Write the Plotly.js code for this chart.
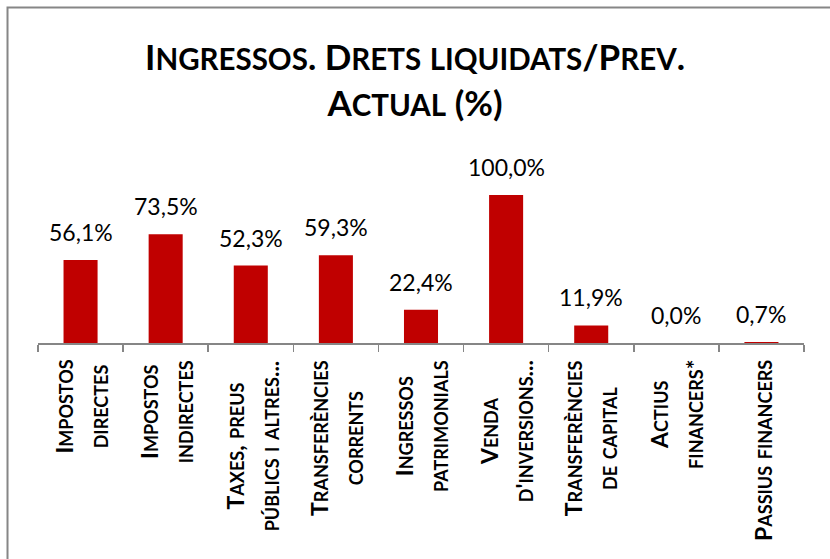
<!DOCTYPE html>
<html>
<head>
<meta charset="utf-8">
<script src="https://cdn.plot.ly/plotly-3.0.1.min.js"></script>
<style>
  html, body { margin: 0; padding: 0; background: #fff; }
  #chart { width: 830px; height: 559px; }
</style>
</head>
<body>
<div id="chart"></div>
<script>
// ---- data ----
const categories = [
  "Impostos directes",
  "Impostos indirectes",
  "Taxes, preus públics i altres...",
  "Transferències corrents",
  "Ingressos patrimonials",
  "Venda d'inversions...",
  "Transferències de capital",
  "Actius financers*",
  "Passius financers"
];
const tickLines = [
  ["Impostos", "directes"],
  ["Impostos", "indirectes"],
  ["Taxes, preus", "públics i altres..."],
  ["Transferències", "corrents"],
  ["Ingressos", "patrimonials"],
  ["Venda", "d'inversions..."],
  ["Transferències", "de capital"],
  ["Actius", "financers*"],
  ["Passius financers"]
];
const values = [56.1, 73.5, 52.3, 59.3, 22.4, 100.0, 11.9, 0.0, 0.7];
const titleLines = ["Ingressos. Drets liquidats/Prev.", "Actual (%)"];

// ---- helpers ----
function smallCaps(str, big, small) {
  let out = "";
  for (const ch of str) {
    const isLower = ch !== ch.toUpperCase();
    if (isLower) out += '<span style="font-size:' + small + 'px">' + ch.toUpperCase() + '</span>';
    else if (ch === " ") out += " ";
    else out += '<span style="font-size:' + big + 'px">' + ch + '</span>';
  }
  return out;
}
const fmt = v => v.toFixed(1).replace('.', ',') + '%';

const ticktext = tickLines.map(lines => lines.map(l => smallCaps(l, 23, 18)).join('<br>'));
const titleText = titleLines.map(l => smallCaps(l, 35, 29.5)).join('<br>');

const FONT = 'Lato, "Open Sans", sans-serif';
const GREY = '#868686';

const trace = {
  type: 'bar',
  x: categories,
  y: values,
  marker: { color: '#C00000' },
  hoverinfo: 'skip'
};

const valueLabels = categories.map((c, i) => ({
  x: c, y: values[i], xref: 'x', yref: 'y',
  text: fmt(values[i]),
  showarrow: false,
  yanchor: 'bottom',
  yshift: 12,
  font: { family: FONT, size: 23, color: '#000' }
}));

// category labels: rotated, lines centred (as in the reference)
const catLabels = categories.map((c, i) => ({
  x: c, y: -0.078, xref: 'x', yref: 'paper',
  text: ticktext[i],
  textangle: -90,
  showarrow: false,
  xanchor: 'center', yanchor: 'top',
  align: 'center',
  font: { family: FONT, size: 27, color: '#000', weight: 'bold' }
}));

const layout = {
  width: 830, height: 559,
  margin: { l: 38, r: 26, t: 150, b: 216 },
  paper_bgcolor: '#fff', plot_bgcolor: '#fff',
  font: { family: FONT, color: '#000' },
  title: {
    text: titleText,
    font: { family: FONT, size: 35, color: '#000', weight: 'bold' },
    x: 0.5, xanchor: 'center',
    y: 1 - 70 / 559, yanchor: 'top', yref: 'container'
  },
  bargap: 0.6,
  showlegend: false,
  xaxis: {
    type: 'category',
    showticklabels: false,
    tickson: 'boundaries',
    ticks: 'outside', ticklen: 7, tickcolor: GREY, tickwidth: 1.5,
    showline: true, linecolor: GREY, linewidth: 1.5,
    showgrid: false, zeroline: false,
    fixedrange: true
  },
  yaxis: {
    range: [0, 130.4],
    visible: false,
    fixedrange: true
  },
  annotations: valueLabels.concat(catLabels),
  shapes: [{
    type: 'rect', xref: 'paper', yref: 'paper',
    x0: -0.0398, x1: 1.08, y0: -1.25, y1: 1.738,
    line: { color: GREY, width: 2 }, fillcolor: 'rgba(0,0,0,0)',
    layer: 'above'
  }]
};

Plotly.newPlot('chart', [trace], layout, { displayModeBar: false, staticPlot: true });
</script>
</body>
</html>
